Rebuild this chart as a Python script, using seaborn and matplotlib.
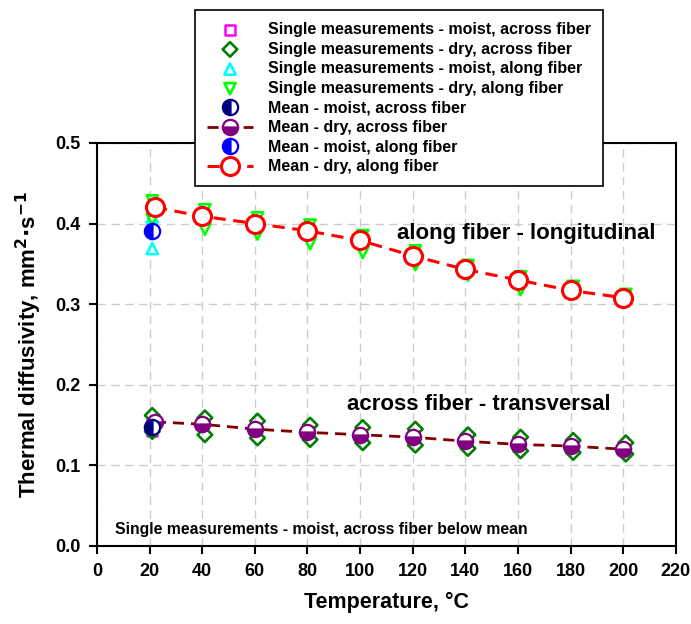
import numpy as np
import pandas as pd
import matplotlib
matplotlib.use("Agg")
import matplotlib.pyplot as plt
import seaborn as sns

# ---- data ----
temps = [20, 40, 60, 80, 100, 120, 140, 160, 180, 200]
mean_dry_along = [0.420, 0.409, 0.400, 0.391, 0.379, 0.360, 0.343, 0.330, 0.317, 0.308]
mean_dry_across = [0.154, 0.151, 0.145, 0.141, 0.138, 0.135, 0.130, 0.126, 0.124, 0.120]
single_dry_along_hi = [0.428, 0.417, 0.407, 0.398, 0.385, 0.366, 0.348, 0.334, 0.322, 0.312]
single_dry_along_lo = [0.405, 0.393, 0.387, 0.375, 0.364, 0.349, 0.336, 0.318, 0.313, 0.305]
single_dry_across_hi = [0.162, 0.159, 0.155, 0.150, 0.147, 0.145, 0.138, 0.135, 0.131, 0.128]
single_dry_across_lo = [0.142, 0.138, 0.134, 0.132, 0.128, 0.125, 0.121, 0.118, 0.116, 0.114]
moist_temp = [20]
single_moist_along = [0.369, 0.408]
single_moist_across = [0.143, 0.151]
mean_moist_along = [0.391]
mean_moist_across = [0.148]

xticks = list(range(0, 221, 20))
yticks = [0.0, 0.1, 0.2, 0.3, 0.4, 0.5]

sns.set_style("whitegrid", {"grid.color": "#cccccc", "grid.linestyle": (0, (6, 4)),
                            "axes.edgecolor": "black", "text.color": "black",
                            "axes.labelcolor": "black", "xtick.color": "black",
                            "ytick.color": "black"})
plt.rcParams['font.family'] = ['Liberation Sans', 'DejaVu Sans']
plt.rcParams['font.weight'] = 'bold'
plt.rcParams['text.color'] = 'black'

fig = plt.figure(figsize=(6.91, 6.24), dpi=100)
ax = fig.add_axes([0.1404, 0.125, 0.8376, 0.646])

off_dry = 2.0   # dry means drawn slightly right of the nominal temperature
off_moist = 1.0

# single measurements
d_ma = pd.DataFrame({"T": [t + off_moist for t in moist_temp * 2], "v": single_moist_across})
sns.scatterplot(data=d_ma, x="T", y="v", ax=ax, marker="s", s=55, facecolor="none",
                edgecolor="#ff00ff", linewidth=1.8, label="Single measurements - moist, across fiber", zorder=3)
d_da = pd.DataFrame({"T": [t + off_moist for t in temps] * 2,
                     "v": single_dry_across_hi + single_dry_across_lo})
sns.scatterplot(data=d_da, x="T", y="v", ax=ax, marker="D", s=55, facecolor="none",
                edgecolor="#008000", linewidth=1.9, label="Single measurements - dry, across fiber", zorder=3)
d_mal = pd.DataFrame({"T": [t + off_moist for t in moist_temp * 2], "v": single_moist_along})
sns.scatterplot(data=d_mal, x="T", y="v", ax=ax, marker="^", s=65, facecolor="none",
                edgecolor="#00ffff", linewidth=1.9, label="Single measurements - moist, along fiber", zorder=3)
d_dal = pd.DataFrame({"T": [t + off_moist for t in temps] * 2,
                      "v": single_dry_along_hi + single_dry_along_lo})
sns.scatterplot(data=d_dal, x="T", y="v", ax=ax, marker="v", s=65, facecolor="none",
                edgecolor="#00ff00", linewidth=1.9, label="Single measurements - dry, along fiber", zorder=3)

# means
d_mma = pd.DataFrame({"T": [t + off_moist for t in moist_temp], "v": mean_moist_across})
sns.lineplot(data=d_mma, x="T", y="v", ax=ax, marker="o", markersize=11, linestyle="none",
             color="#000080", markerfacecolor="#000080", markeredgecolor="#000080",
             fillstyle="left", markerfacecoloralt="white", markeredgewidth=1.6,
             label="Mean - moist, across fiber", zorder=5)
d_mda = pd.DataFrame({"T": [temps[0] + off_dry] + temps[1:], "v": mean_dry_across})
sns.lineplot(data=d_mda, x="T", y="v", ax=ax, marker="o", markersize=11, linestyle=(0, (4, 2.5)),
             linewidth=2.0, color="#800000", markerfacecolor="#800080", markeredgecolor="#800080",
             fillstyle="bottom", markerfacecoloralt="white", markeredgewidth=1.6,
             label="Mean - dry, across fiber", zorder=4)
d_mmal = pd.DataFrame({"T": [t + off_moist for t in moist_temp], "v": mean_moist_along})
sns.lineplot(data=d_mmal, x="T", y="v", ax=ax, marker="o", markersize=11, linestyle="none",
             color="#0000ff", markerfacecolor="#0000ff", markeredgecolor="#0000ff",
             fillstyle="left", markerfacecoloralt="white", markeredgewidth=1.6,
             label="Mean - moist, along fiber", zorder=5)
d_mdal = pd.DataFrame({"T": [temps[0] + off_dry] + temps[1:], "v": mean_dry_along})
sns.lineplot(data=d_mdal, x="T", y="v", ax=ax, marker="o", markersize=13, linestyle=(0, (4, 2.5)),
             linewidth=2.2, color="#ff0000", markerfacecolor="white", markeredgecolor="#ff0000",
             markeredgewidth=2.2, label="Mean - dry, along fiber", zorder=4)

ax.set_xlim(0, 220)
ax.set_ylim(0, 0.5)
ax.set_xticks(xticks)
ax.set_yticks(yticks)
ax.set_xticklabels([str(t) for t in xticks], fontsize=13, fontweight="bold", color="black")
ax.set_yticklabels([f"{t:.1f}" for t in yticks], fontsize=13, fontweight="bold", color="black")
ax.tick_params(axis="both", direction="out", length=6, width=1.5, color="black",
               bottom=True, left=True, pad=6)
for sp in ax.spines.values():
    sp.set_linewidth(1.5)
    sp.set_color("black")
ax.grid(True, color="#cccccc", linestyle=(0, (6, 4)), linewidth=1.0)

ax.set_xlabel("Temperature, °C", fontsize=15.5, fontweight="bold", labelpad=9, color="black")
ax.set_ylabel(r"Thermal diffusivity, mm$^\mathbf{2}$$\cdot$s$^\mathbf{-1}$", fontsize=16,
              fontweight="bold", labelpad=8, color="black")

ax.text(114, 0.388, "along fiber - longitudinal", fontsize=16, fontweight="bold", va="center",
        color="black")
ax.text(95, 0.175, "across fiber - transversal", fontsize=16, fontweight="bold", va="center",
        color="black")
ax.text(7, 0.021, "Single measurements - moist, across fiber below mean", fontsize=11.3,
        fontweight="bold", va="center", color="black")

leg = ax.legend(loc="upper left", bbox_to_anchor=(0.282, 0.984), bbox_transform=fig.transFigure,
                frameon=True, fancybox=False, edgecolor="black", framealpha=1,
                prop={"weight": "bold", "size": 11.5}, handlelength=2.9, labelspacing=0.29,
                borderpad=0.75, handletextpad=0.95, borderaxespad=0)
leg.get_frame().set_linewidth(1.2)
leg.set_zorder(10)
for t in leg.get_texts():
    t.set_color("black")

fig.savefig("out.png", dpi=100)
